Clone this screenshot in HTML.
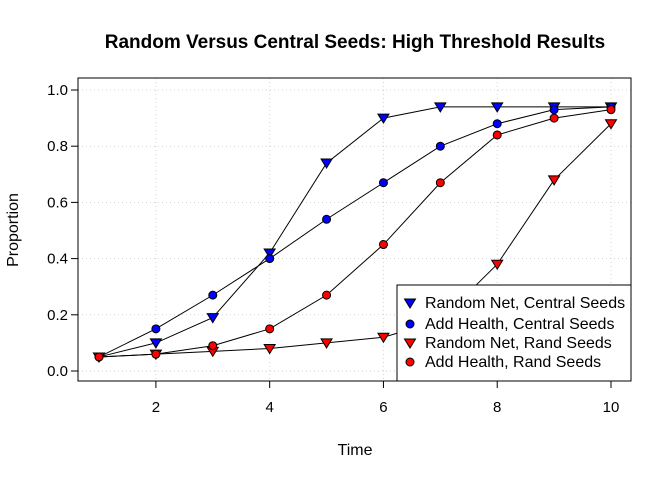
<!DOCTYPE html>
<html><head><meta charset="utf-8"><style>
body{margin:0;background:#fff;}
svg{display:block;font-family:"Liberation Sans",Arial,sans-serif;}
</style></head><body>
<svg id="chart" width="672" height="480" xmlns="http://www.w3.org/2000/svg">
<rect width="672" height="480" fill="#fff"/>
<text x="355" y="48" text-anchor="middle" font-size="19" font-weight="bold">Random Versus Central Seeds: High Threshold Results</text>
<text x="355" y="455" text-anchor="middle" font-size="16">Time</text>
<text transform="translate(18,230) rotate(-90)" text-anchor="middle" font-size="16">Proportion</text>
<g id="grid"></g><g id="axes"></g><g id="series"></g><g id="legend"></g>
</svg>
<script>
const times=[1,2,3,4,5,6,7,8,9,10];
const randomNetCentral=[0.05,0.10,0.19,0.42,0.74,0.90,0.94,0.94,0.94,0.94];
const addHealthCentral=[0.05,0.15,0.27,0.40,0.54,0.67,0.80,0.88,0.93,0.94];
const randomNetRand=[0.05,0.06,0.07,0.08,0.10,0.12,0.18,0.38,0.68,0.88];
const addHealthRand=[0.05,0.06,0.09,0.15,0.27,0.45,0.67,0.84,0.90,0.93];
const xTicks=[2,4,6,8,10];
const yTicks=[0,0.2,0.4,0.6,0.8,1.0];
const seriesNames=["Random Net, Central Seeds","Add Health, Central Seeds","Random Net, Rand Seeds","Add Health, Rand Seeds"];

const NS="http://www.w3.org/2000/svg";
const L=78,R=631,T=78,B=381;
const sx=v=>99+(v-1)*(611-99)/9;
const sy=v=>371-v*(371-90);
function mk(tag,attrs,parent){const e=document.createElementNS(NS,tag);for(const k in attrs)e.setAttribute(k,attrs[k]);parent.appendChild(e);return e;}
const grid=document.getElementById('grid'),axes=document.getElementById('axes'),ser=document.getElementById('series'),leg=document.getElementById('legend');
xTicks.forEach(t=>{
 const g=mk('line',{x1:sx(t),x2:sx(t),y1:T,y2:B,stroke:'#d3d3d3','stroke-dasharray':'1,3'},grid);
 
 
 const tk=mk('line',{x1:sx(t),x2:sx(t),y1:B,y2:B+7,stroke:'#000'},axes);
 
 
 const tx=mk('text',{x:sx(t),y:B+31,'text-anchor':'middle','font-size':15},axes);tx.textContent=t;
 
 
});
yTicks.forEach(t=>{
 const g=mk('line',{x1:L,x2:R,y1:sy(t),y2:sy(t),stroke:'#d3d3d3','stroke-dasharray':'1,3'},grid);
 
 
 const tk=mk('line',{x1:L-7,x2:L,y1:sy(t),y2:sy(t),stroke:'#000'},axes);
 
 
 const tx=mk('text',{x:L-10,y:sy(t)+5,'text-anchor':'end','font-size':15},axes);tx.textContent=t.toFixed(1);
 
 
});
const box=mk('rect',{x:L,y:T,width:R-L,height:B-T,fill:'none',stroke:'#000'},axes);



function marker(type,color,x,y,parent){
 if(type==='tri'){
  return mk('polygon',{points:`${x-5.5},${y-4} ${x+5.5},${y-4} ${x},${y+5}`,fill:color,stroke:'#000','stroke-width':1},parent);
 }
 return mk('circle',{cx:x,cy:y,r:4,fill:color,stroke:'#000','stroke-width':1},parent);
}
const defs=[[randomNetCentral,'tri','#0000ff'],[addHealthCentral,'circ','#0000ff'],[randomNetRand,'tri','#ff0000'],[addHealthRand,'circ','#ff0000']];
defs.forEach(([vals,type,color],i)=>{
 const pl=mk('polyline',{points:times.map((t,j)=>sx(t)+','+sy(vals[j])).join(' '),fill:'none',stroke:'#000','stroke-width':1},ser);
 
 
 times.forEach((t,j)=>{
  const m=marker(type,color,sx(t),sy(vals[j]),ser);
  
  
 });
});
const lb=mk('rect',{x:397,y:285,width:234,height:96,fill:'#fff',stroke:'#000'},leg);


const ly=[303,324,343,362];
defs.forEach(([v,type,color],i)=>{
 const m=marker(type,color,410,ly[i],leg);
 
 
 const tx=mk('text',{x:425,y:ly[i]+5,'font-size':16},leg);tx.textContent=seriesNames[i];
 
 
});
</script>
</body></html>
